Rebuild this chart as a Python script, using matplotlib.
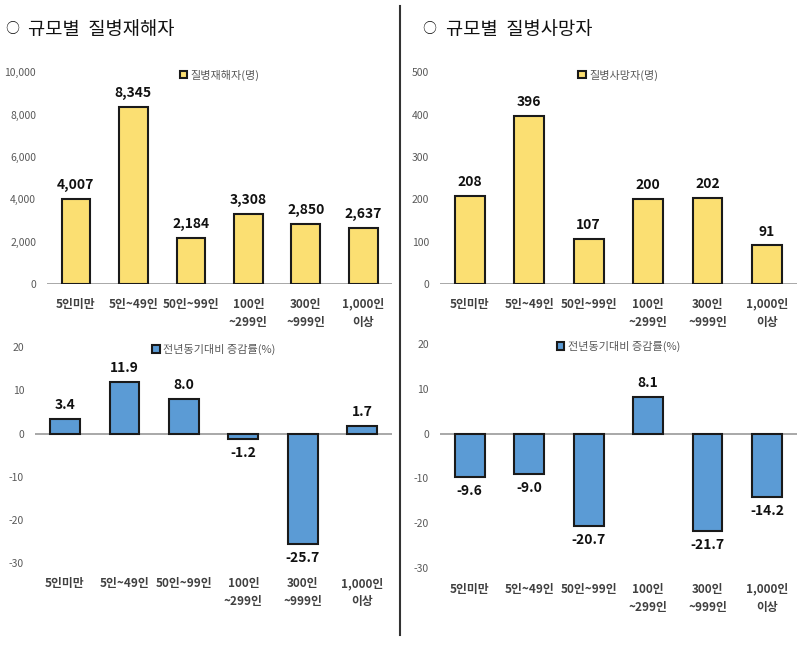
import matplotlib.pyplot as plt
from matplotlib.lines import Line2D
from matplotlib.ticker import FuncFormatter

plt.rcParams['font.family'] = ['Noto Sans CJK KR', 'DejaVu Sans']

# 데이터
categories = ['5인미만', '5인~49인', '50인~99인', '100인\n~299인', '300인\n~999인', '1,000인\n이상']
injured = [4007, 8345, 2184, 3308, 2850, 2637]
injured_change = [3.4, 11.9, 8.0, -1.2, -25.7, 1.7]
deaths = [208, 396, 107, 200, 202, 91]
deaths_change = [-9.6, -9.0, -20.7, 8.1, -21.7, -14.2]

yellow = '#FBDF72'
blue = '#5B9BD5'
tick_gray = '#595959'

fig = plt.figure(figsize=(8, 6.48), dpi=100)


def draw(ax, vals, color, label, ylim, yticks, fmt, tickfmt):
    x = range(len(vals))
    bars = ax.bar(x, vals, width=0.5, color=color, edgecolor='#1a1a1a',
                  linewidth=1.5, label=label, zorder=3)
    ax.set_xlim(-0.5, len(vals) - 0.5)
    ax.set_ylim(*ylim)
    ax.set_yticks(yticks)
    ax.yaxis.set_major_formatter(FuncFormatter(tickfmt))
    ax.axhline(0, color='#9a9a9a', linewidth=1.2, zorder=2)
    for s in ax.spines.values():
        s.set_visible(False)
    ax.tick_params(axis='y', length=0, labelsize=7.5, labelcolor=tick_gray, pad=8)
    ax.set_xticks([])
    # 범주 라벨
    for i, c in enumerate(categories):
        ax.text(i, -0.065, c, transform=ax.get_xaxis_transform(), ha='center',
                va='top', fontsize=8.5, fontweight='bold', color='#404040',
                linespacing=1.5)
    ax.bar_label(bars, labels=[fmt(v) for v in vals], padding=5,
                 fontsize=10, fontweight='bold', color='#111111')
    ax.legend(loc='upper center', bbox_to_anchor=(0.5, 1.06), frameon=False,
              fontsize=8, handlelength=0.7, handleheight=0.7,
              handletextpad=0.3, labelcolor=tick_gray)
    return ax


ax1 = fig.add_axes([0.059, 0.5617, 0.431, 0.327])
draw(ax1, injured, yellow, '질병재해자(명)', (0, 10000), range(0, 10001, 2000),
     lambda v: f'{v:,}', lambda v, p: f'{v:,.0f}')

ax2 = fig.add_axes([0.044, 0.1312, 0.446, 0.333])
draw(ax2, injured_change, blue, '전년동기대비 증감률(%)', (-30, 20), range(-30, 21, 10),
     lambda v: f'{v:.1f}', lambda v, p: f'{v:.0f}')

ax3 = fig.add_axes([0.55, 0.5617, 0.446, 0.327])
draw(ax3, deaths, yellow, '질병사망자(명)', (0, 500), range(0, 501, 100),
     lambda v: f'{v}', lambda v, p: f'{v:.0f}')

ax4 = fig.add_axes([0.55, 0.1235, 0.446, 0.3457])
draw(ax4, deaths_change, blue, '전년동기대비 증감률(%)', (-30, 20), range(-30, 21, 10),
     lambda v: f'{v:.1f}', lambda v, p: f'{v:.0f}')

# 제목
for x0, title in [(0.006, '규모별  질병재해자'), (0.528, '규모별  질병사망자')]:
    fig.text(x0, 0.955, '○', fontsize=10, va='center', color='#111111')
    fig.text(x0 + 0.029, 0.955, title, fontsize=13.5, va='center', color='#111111')

fig.add_artist(Line2D([0.5, 0.5], [0.02, 0.99], color='#333333', linewidth=1.5))

fig.savefig('out.png', dpi=100, facecolor='white')
